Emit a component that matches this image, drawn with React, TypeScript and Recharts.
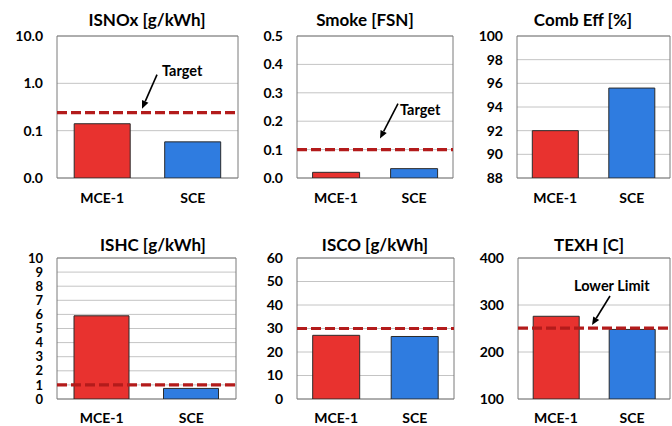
import React from 'react';
import {
  BarChart,
  Bar,
  Cell,
  XAxis,
  YAxis,
  CartesianGrid,
  ReferenceLine,
  ReferenceArea,
} from 'recharts';

// Engine configurations compared in every panel
const engines = ['MCE-1', 'SCE'];
const barColors = ['#E8322F', '#2F7CE0'];

// Measured values, one per engine
const isnox = [0.14, 0.058];
const smoke = [0.02, 0.033];
const combEff = [92.0, 95.6];
const ishc = [5.9, 0.75];
const isco = [27.1, 26.6];
const texh = [276, 248];

// Limits / targets
const isnoxTarget = 0.24;
const smokeTarget = 0.1;
const ishcTarget = 1.0;
const iscoTarget = 30;
const texhLimit = 251;

// Axis ticks
const isnoxTicks = [0.01, 0.1, 1, 10];
const smokeTicks = [0, 0.1, 0.2, 0.3, 0.4, 0.5];
const combTicks = [88, 90, 92, 94, 96, 98, 100];
const ishcTicks = [0, 1, 2, 3, 4, 5, 6, 7, 8, 9, 10];
const iscoTicks = [0, 10, 20, 30, 40, 50, 60];
const texhTicks = [100, 200, 300, 400];

const FONT = 'Lato, "Open Sans", sans-serif';

// Text + arrow pointing at the dashed reference line
const ArrowLabel = ({ viewBox, text, tip, tail, textPos }: any) => {
  if (!viewBox) return null;
  const { x, y } = viewBox;
  const tx = x + tip[0];
  const ty = y + tip[1];
  const sx = x + tail[0];
  const sy = y + tail[1];
  const ang = Math.atan2(ty - sy, tx - sx);
  const len = 8;
  const w = 3.5;
  const bx = tx - len * Math.cos(ang);
  const by = ty - len * Math.sin(ang);
  const p1 = `${bx + w * Math.sin(ang)},${by - w * Math.cos(ang)}`;
  const p2 = `${bx - w * Math.sin(ang)},${by + w * Math.cos(ang)}`;
  return (
    <g>
      <line x1={sx} y1={sy} x2={bx} y2={by} stroke="#000" strokeWidth={1.6} />
      <polygon points={`${tx},${ty} ${p1} ${p2}`} fill="#000" />
      <text
        x={x + textPos[0]}
        y={y + textPos[1]}
        dominantBaseline="central"
        fontFamily={FONT}
        fontWeight={700}
        fontSize={14.5}
        fill="#000"
      >
        {text}
      </text>
    </g>
  );
};

type PanelProps = {
  title: string;
  values: number[];
  ticks: number[];
  domain: [number, number];
  left: number;
  top: number;
  width: number;
  plotLeft: number;
  plotRight: number;
  titleX: number;
  log?: boolean;
  digits?: number;
  refValue?: number;
  label?: any;
  barGap?: string;
  tickFont?: number;
};

const Panel = ({
  title,
  values,
  ticks,
  domain,
  left,
  top,
  width,
  plotLeft,
  plotRight,
  titleX,
  log = false,
  digits = 0,
  refValue,
  label,
  barGap = '19%',
  tickFont = 14,
}: PanelProps) => {
  const data = engines.map((name, i) => ({ name, value: values[i] }));
  const upper = top === 0;
  const height = upper ? 210 : 215;
  return (
    <div style={{ position: 'absolute', left, top, width, height }}>
      <div
        style={{
          position: 'absolute',
          left: titleX - left - 100,
          width: 200,
          top: upper ? 10 : 24,
          textAlign: 'center',
          fontFamily: FONT,
          fontWeight: 700,
          fontSize: 17,
          color: '#000',
          lineHeight: '20px',
        }}
      >
        {title}
      </div>
      <BarChart
        width={width}
        height={height}
        data={data}
        barCategoryGap={barGap}
        margin={{ top: upper ? 36 : 47, right: width - (plotRight - left), bottom: 0, left: 0 }}
      >
        <CartesianGrid vertical={false} stroke="#C4C4C4" strokeWidth={1} />
        <XAxis
          dataKey="name"
          height={upper ? 32 : 27}
          tickLine={false}
          axisLine={false}
          tickSize={0}
          tickMargin={upper ? 15 : 14}
          tick={{ fontFamily: FONT, fontWeight: 700, fontSize: 14, fill: '#000' }}
        />
        <YAxis
          type="number"
          scale={log ? 'log' : 'linear'}
          domain={domain}
          ticks={ticks}
          interval={0}
          allowDataOverflow
          width={plotLeft - left}
          tickLine={false}
          axisLine={false}
          tickSize={0}
          tickMargin={14}
          tickFormatter={(v: number) => v.toFixed(digits)}
          tick={{ fontFamily: FONT, fontWeight: 700, fontSize: tickFont, fill: '#000' }}
        />
        <Bar dataKey="value" isAnimationActive={false} stroke="#2b2b2b" strokeWidth={1}>
          {data.map((d, i) => (
            <Cell key={d.name} fill={barColors[i]} />
          ))}
        </Bar>
        <ReferenceArea
          y1={domain[0]}
          y2={domain[1]}
          fill="none"
          stroke="#7A7A7A"
          strokeWidth={1}
          ifOverflow="visible"
        />
        {refValue !== undefined && (
          <ReferenceLine
            y={refValue}
            stroke="#B31B1B"
            strokeWidth={3.2}
            strokeDasharray="10 4"
            ifOverflow="visible"
            label={label}
          />
        )}
      </BarChart>
    </div>
  );
};

export default function App() {
  return (
    <div
      style={{
        position: 'absolute',
        left: 0,
        top: 0,
        width: 672,
        height: 426,
        background: '#fff',
        overflow: 'hidden',
      }}
    >
      <Panel
        title="ISNOx [g/kWh]"
        values={isnox}
        ticks={isnoxTicks}
        domain={[0.01, 10]}
        log
        digits={1}
        left={0}
        top={0}
        width={245}
        plotLeft={57}
        plotRight={238}
        titleX={147}
        refValue={isnoxTarget}
        label={<ArrowLabel text="Target" tip={[85, -4]} tail={[100, -38]} textPos={[105, -42]} />}
      />
      <Panel
        title="Smoke [FSN]"
        values={smoke}
        ticks={smokeTicks}
        domain={[0, 0.5]}
        digits={1}
        left={240}
        top={0}
        width={220}
        plotLeft={297}
        plotRight={453}
        titleX={365}
        refValue={smokeTarget}
        barGap="20%"
        label={<ArrowLabel text="Target" tip={[83, -11]} tail={[101, -46]} textPos={[103, -40]} />}
      />
      <Panel
        title="Comb Eff [%]"
        values={combEff}
        ticks={combTicks}
        domain={[88, 100]}
        left={460}
        top={0}
        width={212}
        plotLeft={517}
        plotRight={670}
        titleX={583}
        barGap="20%"
      />
      <Panel
        title="ISHC [g/kWh]"
        values={ishc}
        ticks={ishcTicks}
        domain={[0, 10]}
        left={0}
        top={211}
        width={245}
        plotLeft={57}
        plotRight={236}
        titleX={153}
        refValue={ishcTarget}
        tickFont={13}
      />
      <Panel
        title="ISCO [g/kWh]"
        values={isco}
        ticks={iscoTicks}
        domain={[0, 60]}
        left={240}
        top={211}
        width={220}
        plotLeft={297}
        plotRight={454}
        titleX={375}
        refValue={iscoTarget}
        barGap="20%"
      />
      <Panel
        title="TEXH [C]"
        values={texh}
        ticks={texhTicks}
        domain={[100, 400]}
        left={460}
        top={211}
        width={212}
        plotLeft={518}
        plotRight={670}
        titleX={589}
        refValue={texhLimit}
        barGap="20%"
        label={<ArrowLabel text="Lower Limit" tip={[74, -3]} tail={[92, -32]} textPos={[56, -43]} />}
      />
    </div>
  );
}
